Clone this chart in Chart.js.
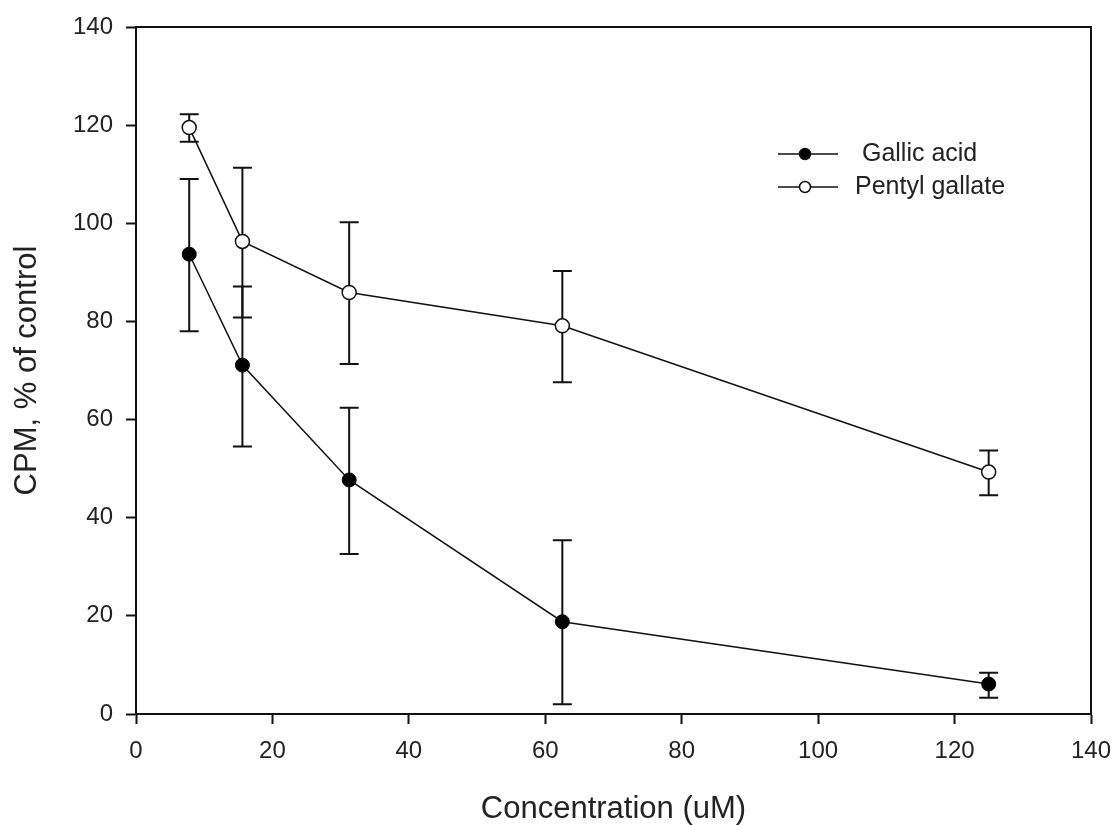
<!DOCTYPE html>
<html>
<head>
    <meta charset="UTF-8">
    <title>Gallic acid vs Pentyl gallate</title>
    <script src="https://cdn.jsdelivr.net/npm/chart.js"></script>
    <style>
        body { margin: 0; background: #fff; }
        #wrap { width: 1115px; height: 825px; }
    </style>
</head>
<body>
    <div id="wrap">
        <canvas id="cpmChart" width="1115" height="825"></canvas>
    </div>
    <script>
        // concentrations (uM)
        var conc = [7.8, 15.6, 31.25, 62.5, 125];

        // Gallic acid, CPM % of control (mean, upper and lower error bar ends)
        var gallic = [93.7, 71.1, 47.7, 18.8, 6.1];
        var gallicHi = [109.0, 87.1, 62.4, 35.4, 8.4];
        var gallicLo = [78.0, 54.5, 32.6, 2.0, 3.3];

        // Pentyl gallate
        var pentyl = [119.5, 96.3, 85.9, 79.1, 49.3];
        var pentylHi = [122.2, 111.3, 100.2, 90.3, 53.7];
        var pentylLo = [116.6, 80.8, 71.3, 67.6, 44.6];

        var labels = [' Gallic acid', 'Pentyl gallate'];
        var xTicks = [0, 20, 40, 60, 80, 100, 120, 140];
        var yTicks = [0, 20, 40, 60, 80, 100, 120, 140];

        function pts(ys) {
            var out = [];
            for (var i = 0; i < conc.length; i++) out.push({ x: conc[i], y: ys[i] });
            return out;
        }

        const FONT = "'Liberation Sans', Arial, sans-serif";

        // error bars drawn below the markers
        const errorBars = {
            id: 'errorBars',
            beforeDatasetsDraw(chart) {
                const ctx = chart.ctx, xs = chart.scales.x, ys = chart.scales.y;
                const sets = [[gallicHi, gallicLo], [pentylHi, pentylLo]];
                ctx.save();
                ctx.strokeStyle = '#111';
                ctx.lineWidth = 2;
                sets.forEach(function (s) {
                    for (var i = 0; i < conc.length; i++) {
                        var px = xs.getPixelForValue(conc[i]);
                        var top = ys.getPixelForValue(s[0][i]);
                        var bot = ys.getPixelForValue(s[1][i]);
                        ctx.beginPath();
                        ctx.moveTo(px, top); ctx.lineTo(px, bot);
                        ctx.moveTo(px - 9.5, top); ctx.lineTo(px + 9.5, top);
                        ctx.moveTo(px - 9.5, bot); ctx.lineTo(px + 9.5, bot);
                        ctx.stroke();
                    }
                });
                ctx.restore();
            }
        };

        // box frame + legend inside the plot
        const frameLegend = {
            id: 'frameLegend',
            afterDraw(chart) {
                const ctx = chart.ctx, a = chart.chartArea;
                ctx.save();
                ctx.strokeStyle = '#111';
                ctx.lineWidth = 2;
                ctx.strokeRect(a.left, a.top, a.right - a.left, a.bottom - a.top);

                chart.data.datasets.forEach(function (ds, i) {
                    var y = a.top + 127 + i * 33;
                    var x0 = a.left + 642;
                    ctx.strokeStyle = '#111';
                    ctx.lineWidth = 1.5;
                    ctx.beginPath();
                    ctx.moveTo(x0, y); ctx.lineTo(x0 + 60, y);
                    ctx.stroke();
                    ctx.beginPath();
                    ctx.arc(x0 + 27, y, 5.5, 0, Math.PI * 2);
                    ctx.fillStyle = ds.pointBackgroundColor;
                    ctx.fill();
                    ctx.stroke();
                    ctx.fillStyle = '#222';
                    ctx.font = '25px ' + FONT;
                    ctx.textBaseline = 'middle';
                    ctx.textAlign = 'left';
                    ctx.fillText(ds.label, x0 + 77, y);
                });
                ctx.restore();
            }
        };

        const ctx = document.getElementById('cpmChart').getContext('2d');
        const cpmChart = new Chart(ctx, {
            type: 'line',
            data: {
                datasets: [
                    {
                        label: labels[0],
                        data: pts(gallic),
                        borderColor: '#111',
                        borderWidth: 1.5,
                        pointRadius: 7,
                        pointBackgroundColor: '#000',
                        pointBorderColor: '#000',
                        pointBorderWidth: 1,
                        tension: 0
                    },
                    {
                        label: labels[1],
                        data: pts(pentyl),
                        borderColor: '#111',
                        borderWidth: 1.5,
                        pointRadius: 7,
                        pointBackgroundColor: '#fff',
                        pointBorderColor: '#111',
                        pointBorderWidth: 1.5,
                        tension: 0
                    }
                ]
            },
            options: {
                responsive: false,
                animation: false,
                layout: { padding: { left: 0, top: 27, right: 24, bottom: 0 } },
                plugins: {
                    legend: { display: false },
                    tooltip: { enabled: false }
                },
                scales: {
                    x: {
                        type: 'linear',
                        min: 0,
                        max: 140,
                        afterBuildTicks: function (s) { s.ticks = xTicks.map(function (v) { return { value: v }; }); },
                        afterFit: function (s) { s.height = 111; s.paddingLeft = 0; s.paddingRight = 0; },
                        border: { color: '#111', width: 2 },
                        grid: { drawOnChartArea: false, drawTicks: true, tickLength: 10, tickColor: '#111', tickWidth: 2 },
                        ticks: { color: '#222', padding: 13, maxRotation: 0, font: { family: FONT, size: 24 } },
                        title: {
                            display: true,
                            text: 'Concentration (uM)',
                            color: '#222',
                            font: { family: FONT, size: 31, lineHeight: 1 },
                            padding: { top: 0, bottom: 0 }
                        }
                    },
                    y: {
                        min: 0,
                        max: 140,
                        afterBuildTicks: function (s) { s.ticks = yTicks.map(function (v) { return { value: v }; }); },
                        afterFit: function (s) { s.width = 136; s.paddingTop = 0; s.paddingBottom = 0; },
                        border: { color: '#111', width: 2 },
                        grid: { drawOnChartArea: false, drawTicks: true, tickLength: 10, tickColor: '#111', tickWidth: 2 },
                        ticks: { color: '#222', padding: 13, font: { family: FONT, size: 24 } },
                        title: {
                            display: true,
                            text: 'CPM, % of control',
                            color: '#222',
                            font: { family: FONT, size: 31, lineHeight: 1 },
                            padding: { top: 12, bottom: 0 }
                        }
                    }
                }
            },
            plugins: [errorBars, frameLegend]
        });
    </script>
</body>
</html>
